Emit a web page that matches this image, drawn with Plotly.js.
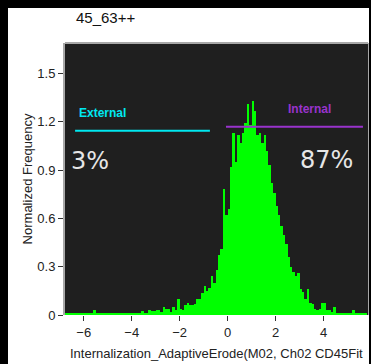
<!DOCTYPE html>
<html>
<head>
<meta charset="utf-8">
<script src="https://cdn.plot.ly/plotly-3.0.1.min.js"></script>
<style>
html,body{margin:0;padding:0;background:#000;width:371px;height:364px;overflow:hidden;}
#chart{position:absolute;left:8px;top:8px;width:361px;height:356px;}
</style>
</head>
<body>
<div id="chart"></div>
<script>
// Histogram bins: start and width (units of the x axis)
const binStart = -6.8;
const binWidth = 0.1;
// Normalized frequency per bin
const frequency = [
  0.01,0.01,0.01,0.01,0.01,0.01,0.01,0.01,0.01,0.01,0.01,0.01,
  0.03,
  0.01,0.01,0.01,0.01,0.01,0.01,0.01,0.01,0.01,0.01,0.01,0.01,0.01,0.01,0.01,0.01,0.01,0.01,0.01,
  0.025,
  0.01,0.01,
  0.03,0.025,0.025,0.03,0.03,0.02,0.05,0.035,0.035,0.02,0.05,0.03,0.1,0.04,0.03,0.06,0.075,0.06,0.06,0.07,
  0.1,0.1,0.135,0.18,0.15,0.17,0.24,0.2,0.28,0.37,0.41,0.78,0.62,0.66,0.92,1.13,0.95,1.12,1.07,1.13,
  1.19,1.31,1.18,1.33,1.27,1.12,1.13,1.07,1.12,1.02,0.93,0.82,0.76,0.68,0.62,0.55,0.5,0.44,0.36,0.3,
  0.27,0.24,0.26,0.16,0.14,0.1,0.16,0.075,0.07,0.04,0.03,0.04,0.075,0.075,0.03,0.03,0.02,0.05,
  0.01,0.01,0.01,0.01,0.01,0.01,0.01,
  0.03,
  0.01,0.01,0.01,0.01,0.01
];
const binCenters = frequency.map((_, i) => binStart + binWidth * (i + 0.5));

// Gates
const gateNames = ["External", "Internal"];
const gateX0 = [-6.36, -0.07];
const gateX1 = [-0.74, 5.64];
const gateY = [1.145, 1.17];
const gatePercent = ["3%", "87%"];

const chartTitle = "45_63++";
const xTitle = "Internalization_AdaptiveErode(M02, Ch02 CD45Fit";
const yTitle = "Normalized Frequency";
const xTickVals = [-6, -4, -2, 0, 2, 4];
const yTickVals = [0, 0.3, 0.6, 0.9, 1.2, 1.5];
const yTickText = ["0", "0.3", "0.6", "0.9", "1.2", "1.5"];

const gateColors = ["#00e8f0", "#9933cc"];

const trace = {
  type: "bar",
  x: binCenters,
  y: frequency,
  width: binWidth,
  marker: {color: "#00ff00", line: {width: 0}},
  hoverinfo: "skip"
};

const layout = {
  width: 361, height: 356,
  margin: {l: 57, r: 1, t: 35, b: 49},
  paper_bgcolor: "#ffffff",
  plot_bgcolor: "#1f1f1f",
  showlegend: false,
  bargap: 0,
  font: {family: "Liberation Sans, Arial, sans-serif", color: "#222", size: 13},
  xaxis: {
    range: [-6.78, 5.85],
    tickvals: xTickVals,
    ticks: "outside", ticklen: 5, tickcolor: "#333", tickwidth: 1,
    showgrid: false, zeroline: false, showline: false,
    tickfont: {size: 13, color: "#222"}
  },
  yaxis: {
    range: [0, 1.69],
    tickvals: yTickVals, ticktext: yTickText,
    ticks: "outside", ticklen: 5, tickcolor: "#333", tickwidth: 1,
    showgrid: false, zeroline: false,
    showline: true, mirror: true, linecolor: "#a8a8a8", linewidth: 2,
    tickfont: {size: 13, color: "#222"},
    title: {text: yTitle, font: {size: 13, color: "#222"}, standoff: 2}
  },
  shapes: [
    {type: "line", xref: "paper", yref: "paper", x0: 0, x1: 1, y0: 1, y1: 1,
     line: {color: "#a8a8a8", width: 2}},
    {type: "line", xref: "x", yref: "y", x0: gateX0[0], x1: gateX1[0], y0: gateY[0], y1: gateY[0],
     line: {color: gateColors[0], width: 2}},
    {type: "line", xref: "x", yref: "y", x0: gateX0[1], x1: gateX1[1], y0: gateY[1], y1: gateY[1],
     line: {color: gateColors[1], width: 2}}
  ],
  annotations: [
    {text: chartTitle, xref: "paper", yref: "paper", x: 0.03, y: 1.0, yshift: 26, xanchor: "left", yanchor: "middle",
     showarrow: false, font: {size: 15, color: "#111"}},
    {text: xTitle, xref: "paper", yref: "paper", x: 0.01, y: 0, yshift: -38, xanchor: "left", yanchor: "middle",
     showarrow: false, font: {size: 13, color: "#222"}},
    {text: "<b>" + gateNames[0] + "</b>", xref: "x", yref: "y", x: -6.3, y: 1.255, xanchor: "left", yanchor: "middle",
     showarrow: false, font: {size: 12, color: gateColors[0]}},
    {text: "<b>" + gateNames[1] + "</b>", xref: "x", yref: "y", x: 2.43, y: 1.28, xanchor: "left", yanchor: "middle",
     showarrow: false, font: {size: 12, color: gateColors[1]}},
    {text: gatePercent[0], xref: "x", yref: "y", x: -6.62, y: 0.957, xanchor: "left", yanchor: "middle",
     showarrow: false, font: {family: "DejaVu Sans, sans-serif", size: 24, color: "#e6e6e6"}},
    {text: gatePercent[1], xref: "x", yref: "y", x: 2.95, y: 0.963, xanchor: "left", yanchor: "middle",
     showarrow: false, font: {family: "DejaVu Sans, sans-serif", size: 24, color: "#e6e6e6"}}
  ]
};

Plotly.newPlot("chart", [trace], layout, {staticPlot: true, displayModeBar: false});
</script>
</body>
</html>
